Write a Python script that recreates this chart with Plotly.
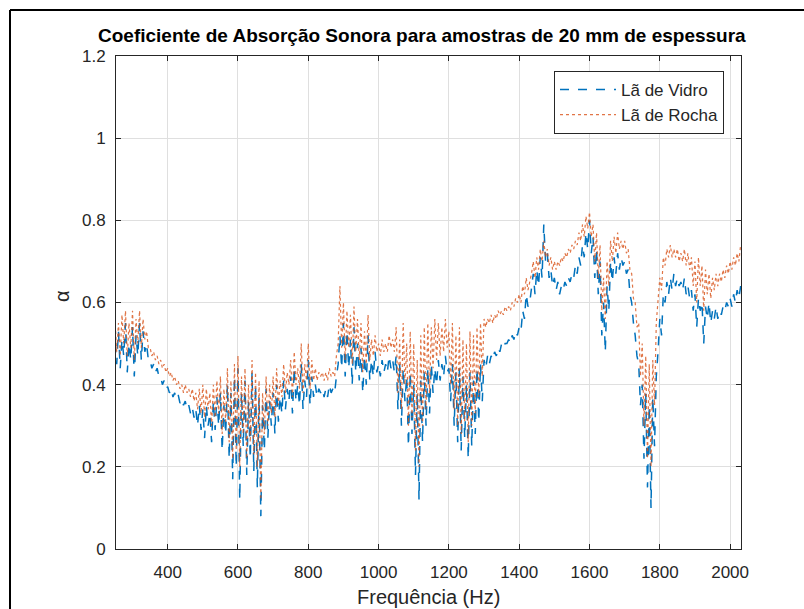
import plotly.graph_objects as go

freq = list(range(250, 2031, 5))

la_vidro = [
    0.50, 0.45, 0.53, 0.44, 0.51, 0.47, 0.55, 0.43, 0.50, 0.46,
    0.54, 0.42, 0.52, 0.47, 0.55, 0.46, 0.53, 0.48, 0.50, 0.46,
    0.46, 0.44, 0.45, 0.43, 0.44, 0.42, 0.42, 0.40, 0.41, 0.39,
    0.395, 0.38, 0.39, 0.37, 0.38, 0.365, 0.375, 0.355, 0.365, 0.35,
    0.36, 0.34, 0.35, 0.33, 0.345, 0.32, 0.34, 0.30, 0.35, 0.29,
    0.34, 0.27, 0.35, 0.30, 0.33, 0.26, 0.36, 0.29, 0.37, 0.30,
    0.38, 0.24, 0.35, 0.28, 0.40, 0.22, 0.38, 0.17, 0.42, 0.20,
    0.44, 0.12, 0.38, 0.25, 0.41, 0.18, 0.36, 0.22, 0.43, 0.19,
    0.40, 0.15, 0.37, 0.08, 0.35, 0.24, 0.39, 0.27, 0.36, 0.30,
    0.38, 0.28, 0.40, 0.31, 0.37, 0.33, 0.41, 0.34, 0.39, 0.36,
    0.42, 0.33, 0.44, 0.36, 0.40, 0.35, 0.45, 0.34, 0.41, 0.37,
    0.46, 0.35, 0.42, 0.37, 0.40, 0.37, 0.39, 0.38, 0.39, 0.37,
    0.39, 0.37, 0.40, 0.38, 0.39, 0.38, 0.42, 0.45, 0.52, 0.44,
    0.55, 0.42, 0.53, 0.44, 0.51, 0.40, 0.54, 0.43, 0.50, 0.41,
    0.49, 0.38, 0.47, 0.40, 0.52, 0.41, 0.46, 0.42, 0.48, 0.43,
    0.45, 0.42, 0.46, 0.43, 0.45, 0.43, 0.47, 0.44, 0.46, 0.43,
    0.47, 0.34, 0.45, 0.30, 0.44, 0.36, 0.42, 0.25, 0.43, 0.28,
    0.40, 0.18, 0.38, 0.12, 0.41, 0.26, 0.43, 0.30, 0.44, 0.33,
    0.45, 0.38, 0.44, 0.40, 0.46, 0.41, 0.45, 0.42, 0.47, 0.43,
    0.44, 0.36, 0.45, 0.30, 0.43, 0.26, 0.44, 0.24, 0.42, 0.27,
    0.40, 0.22, 0.43, 0.25, 0.41, 0.28, 0.44, 0.31, 0.45, 0.36,
    0.46, 0.44, 0.47, 0.45, 0.47, 0.46, 0.48, 0.47, 0.49, 0.48,
    0.50, 0.49, 0.50, 0.50, 0.51, 0.50, 0.52, 0.51, 0.53, 0.52,
    0.54, 0.53, 0.58, 0.56, 0.62, 0.59, 0.60, 0.64, 0.67, 0.62,
    0.68, 0.64, 0.71, 0.66, 0.79, 0.70, 0.72, 0.66, 0.68, 0.64,
    0.66, 0.63, 0.65, 0.62, 0.64, 0.63, 0.65, 0.64, 0.66, 0.65,
    0.67, 0.66, 0.69, 0.67, 0.71, 0.69, 0.74, 0.71, 0.77, 0.73,
    0.80, 0.72, 0.76, 0.66, 0.73, 0.62, 0.70, 0.52, 0.60, 0.48,
    0.64, 0.58, 0.70, 0.65, 0.71, 0.67, 0.72, 0.68, 0.71, 0.69,
    0.70, 0.67, 0.68, 0.62, 0.60, 0.55, 0.52, 0.47, 0.45, 0.35,
    0.40, 0.22, 0.38, 0.15, 0.35, 0.10, 0.37, 0.25, 0.42, 0.48,
    0.56, 0.52, 0.62, 0.60, 0.65, 0.62, 0.66, 0.63, 0.67, 0.64,
    0.66, 0.64, 0.65, 0.63, 0.66, 0.62, 0.64, 0.61, 0.63, 0.58,
    0.62, 0.54, 0.61, 0.58, 0.60, 0.50, 0.59, 0.56, 0.60, 0.55,
    0.58, 0.56, 0.59, 0.56, 0.58, 0.57, 0.59, 0.58, 0.60, 0.59,
    0.61, 0.59, 0.62, 0.60, 0.63, 0.61, 0.64,
]

la_rocha = [
    0.56, 0.48, 0.55, 0.47, 0.57, 0.50, 0.58, 0.47, 0.55, 0.49,
    0.58, 0.46, 0.56, 0.50, 0.58, 0.49, 0.56, 0.51, 0.53, 0.49,
    0.49, 0.47, 0.48, 0.46, 0.47, 0.45, 0.46, 0.44, 0.45, 0.43,
    0.44, 0.42, 0.43, 0.41, 0.42, 0.40, 0.41, 0.39, 0.40, 0.38,
    0.40, 0.38, 0.39, 0.37, 0.39, 0.36, 0.38, 0.34, 0.39, 0.33,
    0.40, 0.32, 0.39, 0.34, 0.38, 0.30, 0.40, 0.32, 0.41, 0.33,
    0.42, 0.28, 0.39, 0.31, 0.44, 0.26, 0.41, 0.22, 0.45, 0.24,
    0.47, 0.20, 0.42, 0.28, 0.44, 0.22, 0.40, 0.26, 0.46, 0.23,
    0.43, 0.20, 0.41, 0.12, 0.38, 0.28, 0.42, 0.30, 0.40, 0.33,
    0.42, 0.32, 0.44, 0.35, 0.41, 0.37, 0.45, 0.38, 0.43, 0.40,
    0.46, 0.37, 0.48, 0.40, 0.44, 0.39, 0.50, 0.38, 0.45, 0.41,
    0.50, 0.39, 0.46, 0.41, 0.44, 0.41, 0.43, 0.42, 0.43, 0.41,
    0.43, 0.41, 0.44, 0.42, 0.43, 0.42, 0.47, 0.50, 0.64, 0.49,
    0.60, 0.46, 0.58, 0.49, 0.57, 0.45, 0.59, 0.48, 0.56, 0.46,
    0.55, 0.43, 0.53, 0.45, 0.57, 0.46, 0.51, 0.47, 0.52, 0.48,
    0.50, 0.47, 0.51, 0.48, 0.50, 0.48, 0.52, 0.49, 0.51, 0.48,
    0.54, 0.38, 0.51, 0.34, 0.55, 0.40, 0.50, 0.30, 0.53, 0.32,
    0.50, 0.24, 0.46, 0.20, 0.52, 0.30, 0.54, 0.34, 0.55, 0.38,
    0.54, 0.44, 0.56, 0.46, 0.55, 0.47, 0.54, 0.48, 0.56, 0.49,
    0.53, 0.40, 0.55, 0.34, 0.52, 0.30, 0.54, 0.28, 0.51, 0.31,
    0.50, 0.26, 0.53, 0.30, 0.52, 0.33, 0.54, 0.37, 0.55, 0.42,
    0.56, 0.54, 0.56, 0.55, 0.57, 0.55, 0.57, 0.56, 0.58, 0.57,
    0.58, 0.57, 0.59, 0.58, 0.59, 0.58, 0.60, 0.59, 0.61, 0.60,
    0.62, 0.60, 0.64, 0.62, 0.66, 0.63, 0.65, 0.67, 0.70, 0.66,
    0.71, 0.68, 0.73, 0.70, 0.75, 0.71, 0.73, 0.69, 0.71, 0.68,
    0.70, 0.68, 0.70, 0.69, 0.71, 0.70, 0.72, 0.71, 0.73, 0.72,
    0.74, 0.73, 0.75, 0.74, 0.77, 0.75, 0.79, 0.76, 0.81, 0.78,
    0.82, 0.76, 0.79, 0.70, 0.77, 0.66, 0.74, 0.58, 0.66, 0.56,
    0.70, 0.64, 0.75, 0.70, 0.76, 0.72, 0.77, 0.73, 0.75, 0.73,
    0.75, 0.72, 0.73, 0.68, 0.67, 0.61, 0.60, 0.54, 0.55, 0.42,
    0.50, 0.30, 0.47, 0.22, 0.45, 0.20, 0.46, 0.35, 0.55, 0.60,
    0.66, 0.63, 0.71, 0.69, 0.73, 0.71, 0.74, 0.71, 0.73, 0.71,
    0.73, 0.70, 0.72, 0.70, 0.73, 0.69, 0.72, 0.68, 0.71, 0.64,
    0.70, 0.60, 0.71, 0.64, 0.69, 0.58, 0.68, 0.62, 0.67, 0.61,
    0.66, 0.63, 0.67, 0.64, 0.67, 0.65, 0.68, 0.66, 0.69, 0.67,
    0.70, 0.68, 0.71, 0.69, 0.72, 0.70, 0.74,
]

x_ticks = [400, 600, 800, 1000, 1200, 1400, 1600, 1800, 2000]
y_ticks = [0, 0.2, 0.4, 0.6, 0.8, 1.0, 1.2]
y_tick_labels = ["0", "0.2", "0.4", "0.6", "0.8", "1", "1.2"]

W, H = 804, 609
ML, MR, MT, MB = 116, 63, 56, 60
pw, ph = W - ML - MR, H - MT - MB

def px_x(p):
    return (p - ML) / pw

def px_y(p):
    return (H - MB - p) / ph

FONT = "Liberation Sans, Arial, Helvetica, sans-serif"
TXT = "#262626"

fig = go.Figure()
fig.add_trace(go.Scatter(
    x=freq, y=la_vidro, mode="lines", name="Lã de Vidro",
    line=dict(color="#0072BD", width=1.5, dash="dash"),
))
fig.add_trace(go.Scatter(
    x=freq, y=la_rocha, mode="lines", name="Lã de Rocha",
    line=dict(color="#D95319", width=1.2, dash="dot"),
    opacity=0.8,
))

axis_common = dict(
    showline=True, linecolor=TXT, linewidth=1, mirror="allticks",
    ticks="inside", ticklen=5, tickcolor=TXT, tickwidth=1,
    showgrid=True, gridcolor="#dfdfdf", gridwidth=1,
    zeroline=False,
    tickfont=dict(family=FONT, size=17, color=TXT),
)

fig.update_layout(
    width=W, height=H,
    margin=dict(l=ML, r=MR, t=MT, b=MB),
    paper_bgcolor="white", plot_bgcolor="white",
    showlegend=True,
    legend=dict(
        x=px_x(554), y=px_y(71), xanchor="left", yanchor="top",
        bgcolor="white", bordercolor=TXT, borderwidth=1,
        font=dict(family=FONT, size=17, color=TXT),
        tracegroupgap=0, itemwidth=56,
    ),
    xaxis=dict(range=[253, 2031], tickvals=x_ticks, ticklabelstandoff=8, **axis_common),
    yaxis=dict(range=[0, 1.2], tickvals=y_ticks, ticktext=y_tick_labels,
               ticklabelstandoff=6, **axis_common),
    annotations=[
        dict(text="<b>Coeficiente de Absorção Sonora para amostras de 20 mm de espessura</b>",
             xref="paper", yref="paper", x=px_x(422), y=px_y(35),
             xanchor="center", yanchor="middle", showarrow=False,
             font=dict(family=FONT, size=19, color="black")),
        dict(text="Frequência (Hz)", xref="paper", yref="paper",
             x=px_x(428), y=px_y(597), xanchor="center", yanchor="middle",
             showarrow=False, font=dict(family=FONT, size=20, color=TXT)),
        dict(text="α", xref="paper", yref="paper", textangle=-90,
             x=px_x(62), y=px_y(296), xanchor="center", yanchor="middle",
             showarrow=False, font=dict(family=FONT, size=20, color=TXT)),
    ],
    shapes=[
        dict(type="line", xref="paper", yref="paper",
             x0=px_x(10), x1=px_x(10), y0=px_y(10), y1=px_y(700),
             line=dict(color="black", width=2)),
        dict(type="line", xref="paper", yref="paper",
             x0=px_x(10), x1=px_x(900), y0=px_y(10), y1=px_y(10),
             line=dict(color="black", width=2)),
    ],
)

fig.write_html("out.html")
